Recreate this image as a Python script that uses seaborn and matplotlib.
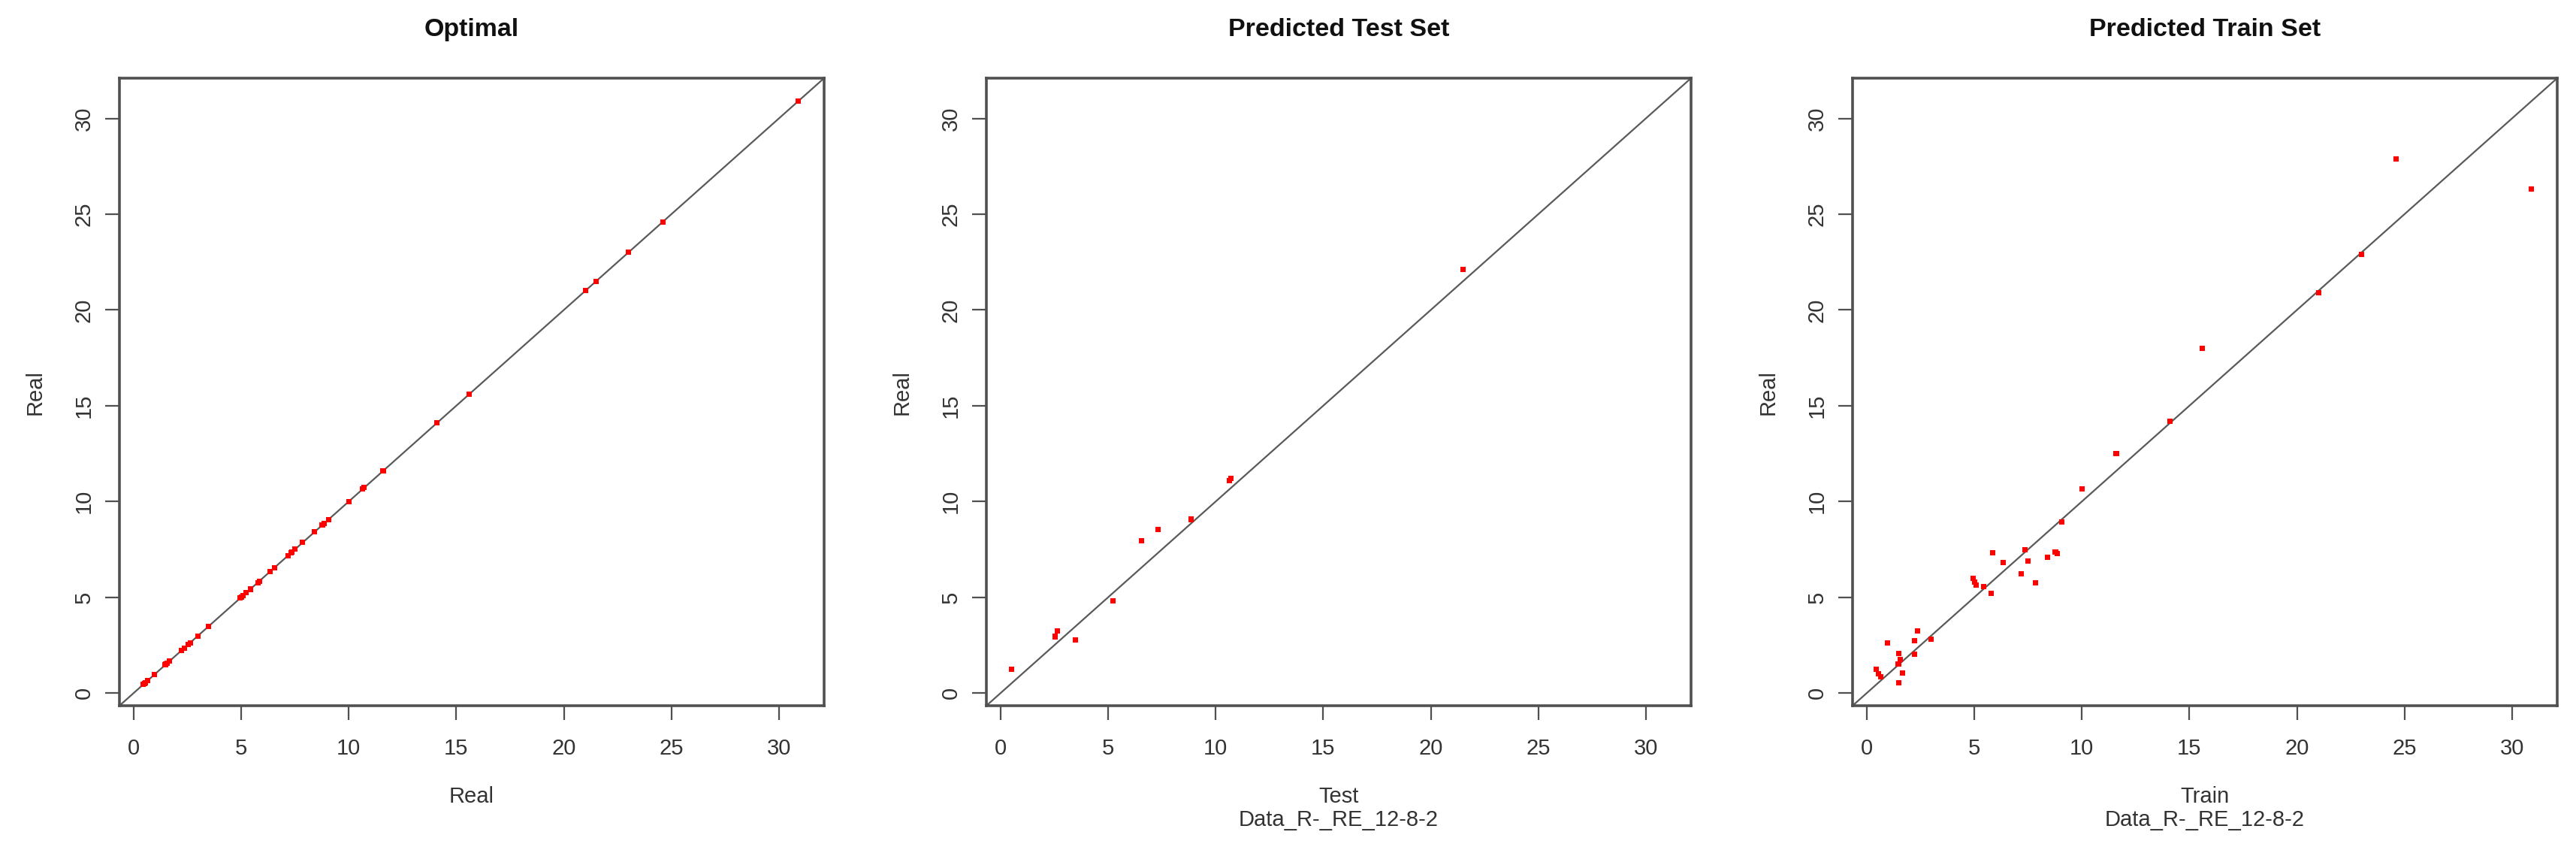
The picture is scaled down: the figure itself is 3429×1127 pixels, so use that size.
import matplotlib as mpl
import matplotlib.pyplot as plt
import seaborn as sns

mpl.use("Agg")

# Predicted train set: x = predicted value, y = real value
train_pred = [0.45, 0.55, 0.65, 0.98, 1.50, 1.55, 1.47, 1.67, 1.50, 2.23, 2.23, 2.35,
              2.98, 4.96, 5.02, 5.08, 5.42, 5.77, 5.85, 6.35, 7.17, 7.36, 7.51, 7.86,
              8.41, 8.77, 8.85, 9.06, 10.0, 11.6, 14.1, 15.6, 21.0, 23.0, 24.6, 30.9]
train_real = [1.25, 1.00, 0.85, 2.60, 2.05, 1.75, 1.50, 1.04, 0.52, 2.02, 2.72, 3.24,
              2.83, 6.00, 5.80, 5.65, 5.55, 5.22, 7.34, 6.83, 6.24, 7.48, 6.88, 5.74,
              7.09, 7.35, 7.30, 8.94, 10.67, 12.5, 14.2, 18.0, 20.9, 22.9, 27.9, 26.3]

# Predicted test set
test_pred = [0.51, 2.63, 2.55, 3.49, 5.23, 6.55, 7.33, 8.85, 10.72, 10.65, 21.5]
test_real = [1.25, 3.24, 2.95, 2.76, 4.82, 7.95, 8.54, 9.07, 11.22, 11.10, 22.1]

# Optimal panel: every value against itself
optimal = train_pred + test_pred

ticks = [0, 5, 10, 15, 20, 25, 30]
LIMS = (-0.66, 32.1)
FRAME = "#505050"
TXT = "#333333"

sns.set_theme(style="white")
plt.rcParams["font.family"] = ["Liberation Sans", "DejaVu Sans"]

fig = plt.figure(figsize=(34.3, 11.27), dpi=100)
lefts = [159 / 3430, 1313 / 3430, 2466 / 3430]
width = 938 / 3430
bottom = 1 - 939 / 1127
height = 835 / 1127

panels = [
    ("Optimal", optimal, optimal, "Real"),
    ("Predicted Test Set", test_pred, test_real, "Test\nData_R-_RE_12-8-2"),
    ("Predicted Train Set", train_pred, train_real, "Train\nData_R-_RE_12-8-2"),
]

for left, (title, xs, ys, xlab) in zip(lefts, panels):
    ax = fig.add_axes([left, bottom, width, height])
    ax.axline((0, 0), slope=1, color="#5a5a5a", lw=1.6, zorder=1)
    sns.scatterplot(x=xs, y=ys, ax=ax, color="#ff0000", marker="s", s=26,
                    edgecolor="none", zorder=2)
    ax.set_xlim(LIMS)
    ax.set_ylim(LIMS)
    ax.set_xticks(ticks)
    ax.set_yticks(ticks)
    ax.tick_params(axis="both", direction="out", length=14, width=1.6,
                   color=FRAME, labelsize=21, labelcolor=TXT,
                   bottom=True, left=True)
    ax.tick_params(axis="x", pad=17)
    ax.tick_params(axis="y", pad=10)
    for lab in ax.get_yticklabels():
        lab.set_rotation(90)
        lab.set_va("center")
    for sp in ax.spines.values():
        sp.set_visible(True)
        sp.set_color(FRAME)
        sp.set_linewidth(2.6)
    ax.set_title(title, fontsize=24.5, fontweight="bold", color="#111111", pad=40)
    ax.set_xlabel(xlab, fontsize=21, color=TXT, labelpad=26, linespacing=1.15)
    ax.set_ylabel("Real", fontsize=21, color=TXT, labelpad=27)
    ax.grid(False)

fig.savefig("out.png", dpi=100, facecolor="white")
